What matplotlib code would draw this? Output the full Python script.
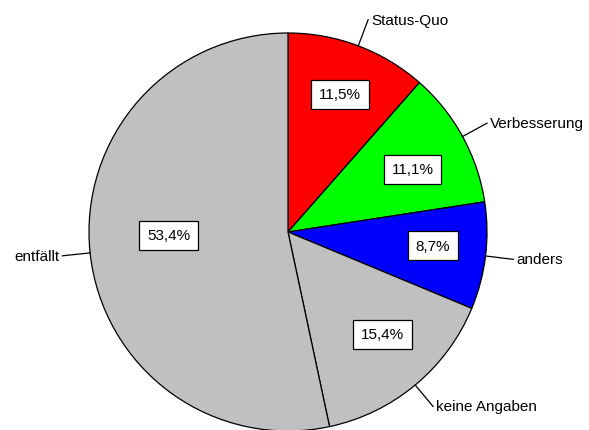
import matplotlib
matplotlib.use("Agg")
import matplotlib.pyplot as plt
import numpy as np

labels = ["Status-Quo", "Verbesserung", "anders", "keine Angaben", "entfällt"]
values = [11.5, 11.1, 8.7, 15.4, 53.4]
colors = ["#FF0000", "#00FF00", "#0000FF", "#C0C0C0", "#C0C0C0"]

plt.rcParams["font.family"] = ["Liberation Sans", "DejaVu Sans"]

W, H = 589, 431
fig = plt.figure(figsize=(W / 100, H / 100), dpi=100)
ax = fig.add_axes([0, 0, 1, 1])

cx, cy, r = 288, H - 233, 199
wedges, _ = ax.pie(values, colors=colors, startangle=90, counterclock=False,
                   center=(cx, cy), radius=r, frame=True,
                   wedgeprops=dict(edgecolor="black", linewidth=0.9))
ax.set_xlim(0, W)
ax.set_ylim(0, H)
ax.set_aspect("equal")
ax.axis("off")

# placement of the value boxes: fraction of radius, angle tweak in degrees
pct_dist = [0.74, 0.70, 0.73, 0.70, 0.60]
pct_rot = [0, -2, 1.5, 3, -4.5]
for w, v, pd, rot, name in zip(wedges, values, pct_dist, pct_rot, labels):
    mid = (w.theta1 + w.theta2) / 2
    a = np.deg2rad(mid + rot)
    ax.text(cx + pd * r * np.cos(a), cy + pd * r * np.sin(a),
            f"{v:.1f}%".replace(".", ","),
            ha="center", va="center", fontsize=11,
            bbox=dict(boxstyle="square,pad=0.5", fc="white", ec="black", lw=0.9))
    ang = np.deg2rad(mid)
    ca, sa = np.cos(ang), np.sin(ang)
    x0, y0 = cx + r * ca, cy + r * sa
    x1, y1 = cx + 1.14 * r * ca, cy + 1.14 * r * sa
    ax.plot([x0, x1], [y0, y1], color="black", lw=0.9)
    ha = "left" if ca >= 0 else "right"
    dx = 3 if ca >= 0 else -3
    ax.text(x1 + dx, y1, name, ha=ha, va="center", fontsize=11)

fig.savefig("out.png", dpi=100)
